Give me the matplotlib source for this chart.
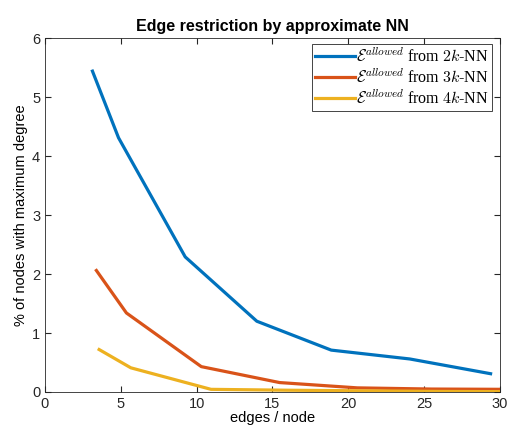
import matplotlib
matplotlib.use("Agg")
import matplotlib.pyplot as plt

plt.rcParams['font.family'] = ['Liberation Sans', 'DejaVu Sans']
plt.rcParams['mathtext.fontset'] = 'cm'

# edges per node vs % of nodes with maximum degree
x_2k = [3.13, 4.85, 9.25, 13.97, 18.88, 24.06, 29.39]
y_2k = [5.44, 4.31, 2.29, 1.20, 0.71, 0.56, 0.31]

x_3k = [3.39, 5.37, 10.31, 15.47, 20.6, 25.5, 30.5]
y_3k = [2.06, 1.34, 0.43, 0.16, 0.07, 0.05, 0.045]

x_4k = [3.57, 5.66, 10.95, 16.0, 21.0, 26.0, 31.0]
y_4k = [0.72, 0.41, 0.045, 0.03, 0.02, 0.01, 0.005]

labels = [r'$\mathcal{E}^{allowed}$ from $2k$-NN',
          r'$\mathcal{E}^{allowed}$ from $3k$-NN',
          r'$\mathcal{E}^{allowed}$ from $4k$-NN']
colors = ['#0072BD', '#D95319', '#EDB120']

fig = plt.figure(figsize=(5.09, 4.33), dpi=100)
ax = fig.add_axes([0.0884, 0.0947, 0.8936, 0.8173])

ax.plot(x_2k, y_2k, color=colors[0], lw=2.3, label=labels[0])
ax.plot(x_3k, y_3k, color=colors[1], lw=2.3, label=labels[1])
ax.plot(x_4k, y_4k, color=colors[2], lw=2.3, label=labels[2])

ax.set_xlim(0, 30)
ax.set_ylim(0, 6)
ax.set_xticks(range(0, 31, 5))
ax.set_yticks(range(0, 7))
ax.tick_params(direction='in', top=True, right=True, labelsize=10.5,
               colors='#262626', length=4)
for s in ax.spines.values():
    s.set_color('#262626')
    s.set_linewidth(0.6)

ax.set_title('Edge restriction by approximate NN', fontsize=11.5, fontweight='bold', pad=5)
ax.set_xlabel('edges / node', fontsize=10.5, labelpad=0)
ax.set_ylabel('% of nodes with maximum degree', fontsize=10.5, labelpad=3)

leg = ax.legend(loc='upper right', bbox_to_anchor=(0.983, 0.983),
                prop={'family': 'Liberation Serif', 'size': 11.5},
                fancybox=False, edgecolor='#262626', framealpha=1,
                handlelength=2.5, handletextpad=0.1, borderaxespad=0,
                borderpad=0.2, labelspacing=0.15)
leg.get_frame().set_linewidth(0.6)

fig.savefig('out.png', dpi=100)
